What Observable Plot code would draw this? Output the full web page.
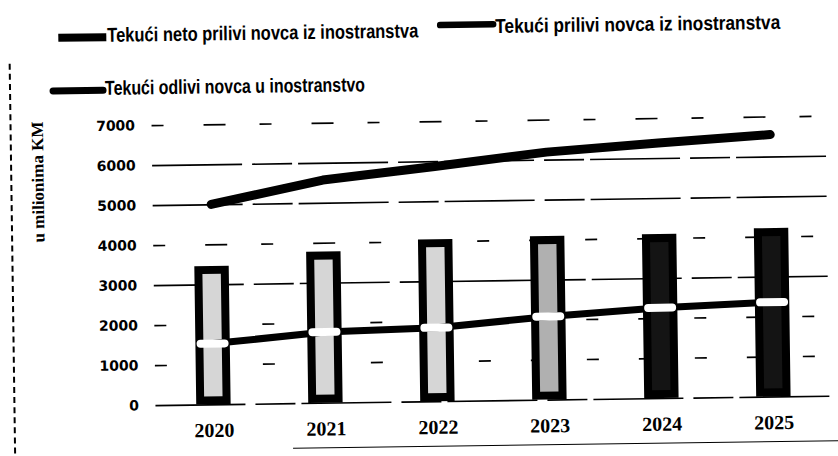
<!DOCTYPE html>
<html><head><meta charset="utf-8">
<script src="https://cdn.jsdelivr.net/npm/d3@7"></script>
<script src="https://cdn.jsdelivr.net/npm/@observablehq/plot@0.6"></script>
<style>
html,body{margin:0;padding:0;background:#fff;overflow:hidden}
#wrap{position:relative;width:838px;height:456px;transform:rotate(-0.8deg);transform-origin:419px 228px}
#legend{position:absolute;left:0;top:0}
#chart{position:absolute;left:0;top:100px}
.scan-left{position:absolute;left:11px;top:58px;height:400px;border-left:2px dashed #000}
.scan-bottom{position:absolute;left:290px;top:446px;width:560px;border-top:1.5px solid #000}
</style></head><body>
<div id="wrap"><svg id="legend" width="838" height="100"></svg><div id="chart"></div><div class="scan-left"></div><div class="scan-bottom"></div></div>
<script>
const years = ["2020", "2021", "2022", "2023", "2024", "2025"];
const netInflow = [3460, 3780, 4050, 4090, 4100, 4210];
const inflow = [5010, 5580, 5880, 6200, 6390, 6560];
const outflow = [1530, 1780, 1850, 2090, 2270, 2370];
const yTicks = [0, 1000, 2000, 3000, 4000, 5000, 6000, 7000];
const seriesNames = [
  "Tekući neto prilivi novca iz inostranstva",
  "Tekući prilivi novca iz inostranstva",
  "Tekući odlivi novca u inostranstvo"
];
const yLabel = "u milionima KM";

const data = years.map((year, i) => ({year, net: netInflow[i], inflow: inflow[i], outflow: outflow[i]}));

// styles (kept apart from the data)
const darkYears = new Set(["2024", "2025"]);
const barFill = d => darkYears.has(d.year) ? "#141414" : (d.year === "2023" ? "#b0b0b0" : "#d6d6d6");
const solidGridValues = new Set([0, 3000, 5000, 6000]);
const solidGrid = yTicks.filter(v => solidGridValues.has(v));
const sparseGrid = yTicks.filter(v => !solidGridValues.has(v));

const chart = Plot.plot({
  width: 838,
  height: 340,
  marginLeft: 153,
  marginRight: 9,
  marginTop: 21.4,
  marginBottom: 38.6,
  style: {background: "transparent", color: "#000", overflow: "visible"},
  x: {type: "band", domain: years, padding: 0},
  y: {domain: [0, 7000]},
  color: {type: "identity"},
  marks: [
    Plot.ruleY(solidGrid, {stroke: "#000", strokeWidth: 1.6, strokeDasharray: "90 10 40 6"}),
    Plot.ruleY(sparseGrid, {stroke: "#000", strokeWidth: 1.6, strokeDasharray: "12 40 22 34"}),
    Plot.barY(data, {x: "year", y: "net", fill: barFill, stroke: "#000", strokeWidth: 8,
      insetLeft: 42.8, insetRight: 42.8, insetTop: 4, insetBottom: 4}),
    Plot.line(data, {x: "year", y: "inflow", stroke: "#000", strokeWidth: 9, strokeLinecap: "round", strokeLinejoin: "round"}),
    Plot.line(data, {x: "year", y: "outflow", stroke: "#000", strokeWidth: 7, strokeLinecap: "round", strokeLinejoin: "round"}),
    Plot.tickY(data, {x: "year", y: "outflow", stroke: "#fff", strokeWidth: 8, strokeLinecap: "round", insetLeft: 44, insetRight: 44}),
    Plot.axisX({tickSize: 0, tickPadding: 18, fontSize: 20, fontWeight: "bold", fontFamily: "Liberation Serif", label: null}),
    Plot.axisY({ticks: yTicks, tickSize: 0, tickPadding: 17, fontSize: 14, fontWeight: "bold", fontFamily: "DejaVu Sans", label: null, tickFormat: d3.format("d")}),
    Plot.text([yLabel], {frameAnchor: "left", rotate: -90, dx: -114.7, dy: -24.7, fontSize: 17, fontWeight: "bold", fontFamily: "Liberation Serif", fill: "#000"})
  ]
});
document.getElementById("chart").appendChild(chart);

// legend
const legendLayout = [
  {sx1: 61, sx2: 109, sy: 32.8, sw: 8, cap: "butt", tx: 110, tw: 311, ty: 37.5},
  {sx1: 443, sx2: 496, sy: 25.4, sw: 6.5, cap: "round", tx: 498, tw: 285, ty: 34},
  {sx1: 55, sx2: 105, sy: 85.8, sw: 7, cap: "round", tx: 107, tw: 260, ty: 90.5}
];
const leg = d3.select("#legend");
seriesNames.forEach((name, i) => {
  const L = legendLayout[i];
  leg.append("line").attr("x1", L.sx1).attr("x2", L.sx2).attr("y1", L.sy).attr("y2", L.sy)
    .attr("stroke", "#000").attr("stroke-width", L.sw).attr("stroke-linecap", L.cap);
  leg.append("text").attr("x", L.tx).attr("y", L.ty)
    .attr("font-family", "'Liberation Sans Narrow','Arial Narrow','Liberation Sans',sans-serif")
    .attr("font-weight", "bold").attr("font-size", 20)
    .attr("textLength", L.tw).attr("lengthAdjust", "spacingAndGlyphs")
    .attr("fill", "#000").text(name);
});
</script>
</body></html>
